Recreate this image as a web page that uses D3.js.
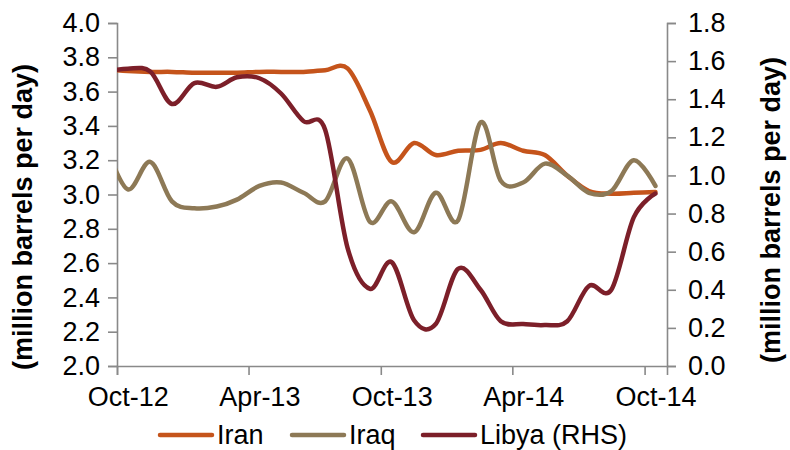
<!DOCTYPE html>
<html>
<head>
<meta charset="utf-8">
<script src="https://cdn.jsdelivr.net/npm/d3@7"></script>
<style>
  html, body { margin: 0; padding: 0; background: #fff; }
  svg { display: block; font-family: "Liberation Sans", Arial, sans-serif; }
</style>
</head>
<body>
<svg id="chart" width="790" height="450"></svg>
<script>
// Monthly crude output, million barrels per day (Libya read on the right axis)
const months = ["2012-09","2012-10","2012-11","2012-12","2013-01","2013-02","2013-03","2013-04",
  "2013-05","2013-06","2013-07","2013-08","2013-09","2013-10","2013-11","2013-12","2014-01",
  "2014-02","2014-03","2014-04","2014-05","2014-06","2014-07","2014-08","2014-09","2014-10"];
const iran = [3.73, 3.72, 3.715, 3.715, 3.71, 3.71, 3.71, 3.715, 3.715, 3.715, 3.725, 3.735, 3.49,
  3.19, 3.30, 3.23, 3.255, 3.26, 3.30, 3.255, 3.23, 3.11, 3.02, 3.005, 3.01, 3.015];
const iraq = [3.28, 3.03, 3.19, 2.96, 2.92, 2.93, 2.97, 3.05, 3.07, 3.01, 2.96, 3.21, 2.84,
  2.96, 2.78, 3.01, 2.85, 3.42, 3.08, 3.07, 3.18, 3.11, 3.01, 3.02, 3.20, 3.05];
const libya = [1.545, 1.56, 1.545, 1.375, 1.485, 1.465, 1.515, 1.51, 1.43, 1.285, 1.24, 0.62, 0.405,
  0.545, 0.24, 0.22, 0.51, 0.40, 0.235, 0.22, 0.215, 0.235, 0.42, 0.40, 0.78, 0.905];
const leftTicks = [2.0, 2.2, 2.4, 2.6, 2.8, 3.0, 3.2, 3.4, 3.6, 3.8, 4.0];
const rightTicks = [0.0, 0.2, 0.4, 0.6, 0.8, 1.0, 1.2, 1.4, 1.6, 1.8];
const xTickMonths = ["2012-10", "2013-04", "2013-10", "2014-04", "2014-10"];
const seriesNames = ["Iran", "Iraq", "Libya (RHS)"];
const colors = ["#c5541b", "#8d7956", "#7c1f29"];

const svg = d3.select("#chart");
const plot = { left: 117, right: 667, top: 23, bottom: 366 };
const parseMonth = d3.timeParse("%Y-%m");
const midMonth = m => d3.timeDay.offset(parseMonth(m), 15);

const x = d3.scaleTime()
  .domain([parseMonth("2012-10"), parseMonth("2014-11")])
  .range([plot.left, plot.right]);
const yL = d3.scaleLinear().domain([2, 4]).range([plot.bottom, plot.top]);
const yR = d3.scaleLinear().domain([0, 1.8]).range([plot.bottom, plot.top]);

const axisColor = "#898989";
const fontSize = 27;

// clip the series to the plot window
svg.append("defs").append("clipPath").attr("id", "plotClip")
  .append("rect")
  .attr("x", plot.left).attr("y", 0)
  .attr("width", plot.right - plot.left).attr("height", plot.bottom + 10);

function styleAxis(g) {
  g.select(".domain").attr("stroke", axisColor).attr("stroke-width", 1.6);
  g.selectAll(".tick line").attr("stroke", axisColor).attr("stroke-width", 1.6);
  g.selectAll(".tick text").attr("fill", "#000")
    .style("font-size", fontSize + "px")
    .style("font-family", "'Liberation Sans', Arial, sans-serif");
}

// left axis
svg.append("g")
  .attr("transform", `translate(${plot.left},0)`)
  .call(d3.axisLeft(yL).tickValues(leftTicks).tickFormat(d3.format(".1f"))
    .tickSizeOuter(0).tickSize(9).tickPadding(8))
  .call(styleAxis);

// right axis
svg.append("g")
  .attr("transform", `translate(${plot.right},0)`)
  .call(d3.axisRight(yR).tickValues(rightTicks).tickFormat(d3.format(".1f"))
    .tickSizeOuter(0).tickSize(9).tickPadding(12))
  .call(styleAxis);

// bottom axis: ticks at month starts, labels centred in the month
const xAxisG = svg.append("g")
  .attr("transform", `translate(0,${plot.bottom})`)
  .call(d3.axisBottom(x).tickValues(xTickMonths.map(parseMonth))
    .tickFormat(d3.timeFormat("%b-%y")).tickSizeOuter(0).tickSize(9).tickPadding(12))
  .call(styleAxis);
xAxisG.selectAll(".tick text")
  .attr("x", d => x(d3.timeDay.offset(d, 15)) - x(d));

// axis titles
svg.append("text")
  .attr("transform", `translate(23,217) rotate(-90)`)
  .attr("text-anchor", "middle").attr("dominant-baseline", "central")
  .style("font-size", "27px").style("font-weight", "bold")
  .text("(million barrels per day)");
svg.append("text")
  .attr("transform", `translate(771,210) rotate(-90)`)
  .attr("text-anchor", "middle").attr("dominant-baseline", "central")
  .style("font-size", "27px").style("font-weight", "bold")
  .text("(million barrels per day)");

// series lines
const seriesData = [
  { values: iran, y: yL },
  { values: iraq, y: yL },
  { values: libya, y: yR }
];
const lines = svg.append("g").attr("clip-path", "url(#plotClip)");
seriesData.forEach((s, i) => {
  const line = d3.line()
    .x((d, j) => x(midMonth(months[j])))
    .y(d => s.y(d))
    .curve(d3.curveCatmullRom.alpha(0));
  lines.append("path")
    .datum(s.values)
    .attr("d", line)
    .attr("fill", "none")
    .attr("stroke", colors[i])
    .attr("stroke-width", 4.5)
    .attr("stroke-linejoin", "round")
    .attr("stroke-linecap", "round");
});

// legend
const legendItems = [
  { x: 160, name: seriesNames[0], color: colors[0] },
  { x: 292, name: seriesNames[1], color: colors[1] },
  { x: 423, name: seriesNames[2], color: colors[2] }
];
const legend = svg.append("g");
legendItems.forEach(it => {
  legend.append("line")
    .attr("x1", it.x).attr("x2", it.x + 52)
    .attr("y1", 435).attr("y2", 435)
    .attr("stroke", it.color).attr("stroke-width", 4.5)
    .attr("stroke-linecap", "round");
  legend.append("text")
    .attr("x", it.x + 57).attr("y", 444)
    .style("font-size", fontSize + "px")
    .text(it.name);
});
</script>
</body>
</html>
